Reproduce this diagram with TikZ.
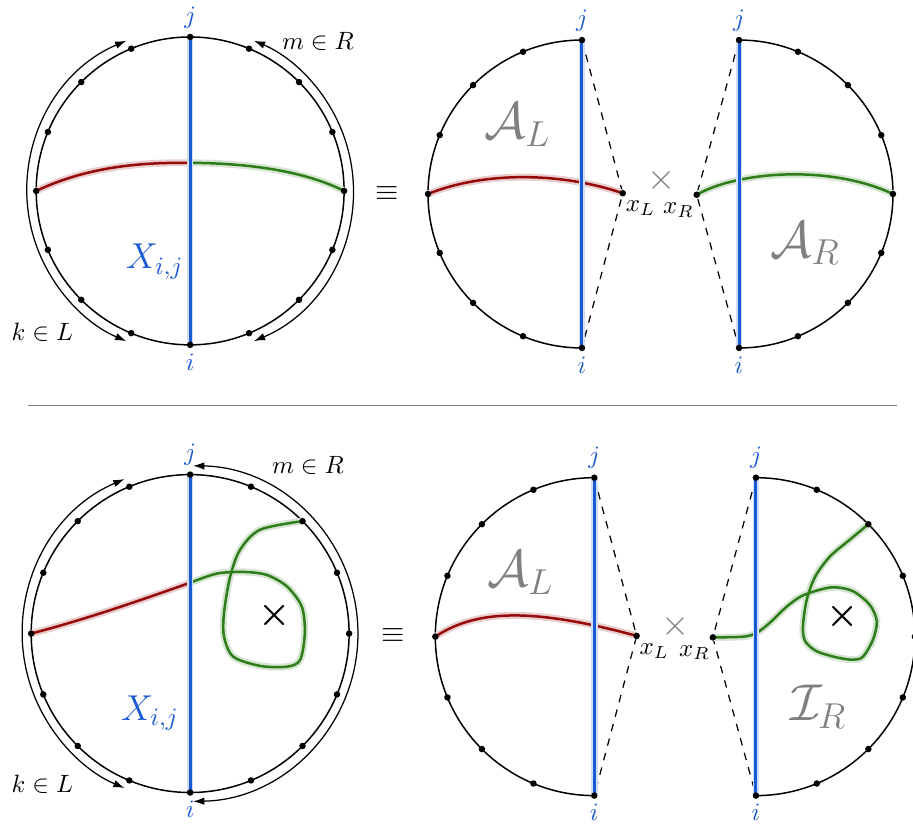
\documentclass[tikz,border=0pt]{standalone}
\usepackage{amsmath, amssymb}
\usepackage{tikz}
\usetikzlibrary{calc, arrows.meta}
\usepackage{xcolor}
\definecolor{xblue}{RGB}{25,90,210}
\definecolor{lred}{RGB}{150,10,10}
\definecolor{lgreen}{RGB}{45,125,25}

\begin{document}
\begin{tikzpicture}[x=1.0825cm, y=1.0825cm,
        diskline/.style={line width=0.6pt},
        idxline/.style={draw=xblue, line width=1.2pt, preaction={draw=xblue!20, line width=2.6pt}},
        redpath/.style={draw=lred, line width=1pt, preaction={draw=lred!20, line width=2.8pt}},
        greenpath/.style={draw=lgreen, line width=1pt, preaction={draw=lgreen!20, line width=2.8pt}},
        rangearc/.style={line width=0.5pt, {Latex[length=4.5pt,width=3pt]}-{Latex[length=4.5pt,width=3pt]}},
        gluedash/.style={dashed, line width=0.5pt},
        idx/.style={text=xblue},
        region/.style={text=gray, font=\huge},
        cutmark/.style={text=gray, font=\Large, inner sep=0pt},
        gluelab/.style={inner sep=1pt, yshift=-2pt}]
                \useasboundingbox (-2.47,-8.30) rectangle (9.39,2.48);
                % top row: full disk
                \coordinate (O1) at (0,0);
                \coordinate (j1) at ($(O1)+(90:2)$);
                \coordinate (i1) at ($(O1)+(270:2)$);
                \coordinate (l1) at ($(O1)+(180:2)$);
                \coordinate (r1) at ($(O1)+(0:2)$);
                \coordinate (m1) at (0,0.365);
                \draw[diskline] (O1) circle (2);
                \draw[rangearc] ($(O1)+(113:2.12)$) arc[start angle=113, end angle=247, radius=2.12];
                \draw[rangearc] ($(O1)+(-67:2.12)$) arc[start angle=-67, end angle=67, radius=2.12];
                \draw[redpath] (l1) .. controls (-1.3,0.33) and (-0.6,0.37) .. (m1);
                \draw[greenpath] (m1) .. controls (0.8,0.36) and (1.5,0.25) .. (r1);
                \draw[idxline] (j1) -- (i1);
                \foreach \a in {0,22.5,...,337.5} \fill (O1) ++(\a:2) circle (1.3pt);
                \node[idx, above] (j1lab) at (j1) {$j$};
                \node[idx, below] (i1lab) at (i1) {$i$};
                \node[idx, font=\Large] (X1lab) at (-0.46,-0.92) {$X_{i,j}$};
                \node (m1lab) at (1.66,1.94) {$m\in R$};
                \node (k1lab) at (-1.92,-1.84) {$k\in L$};
                \node[font=\large] (eq1) at (2.56,-0.03) {$\equiv$};
                % top row: left half
                \coordinate (OL1) at (5.09,-0.04);
                \coordinate (jL1) at ($(OL1)+(90:2)$);
                \coordinate (iL1) at ($(OL1)+(270:2)$);
                \coordinate (lL1) at ($(OL1)+(180:2)$);
                \coordinate (xL1) at (5.62,-0.03);
                \draw[diskline] (jL1) arc[start angle=90, end angle=270, radius=2];
                \draw[gluedash] (jL1) -- (xL1) -- (iL1);
                \draw[redpath] (lL1) .. controls (3.8,0.25) and (4.8,0.25) .. (xL1);
                \draw[idxline] (jL1) -- (iL1);
                \foreach \a in {90,112.5,...,270} \fill (OL1) ++(\a:2) circle (1.3pt);
                \fill (xL1) circle (1.3pt);
                \node[idx, above] (jL1lab) at (jL1) {$j$};
                \node[idx, below] (iL1lab) at (iL1) {$i$};
                \node[below right, gluelab] (xL1lab) at (xL1) {$x_L$};
                \node[region] (AL1) at (4.25,0.86) {$\mathcal{A}_L$};
                % top row: right half
                \coordinate (OR1) at (7.13,-0.04);
                \coordinate (jR1) at ($(OR1)+(90:2)$);
                \coordinate (iR1) at ($(OR1)+(270:2)$);
                \coordinate (rR1) at ($(OR1)+(0:2)$);
                \coordinate (xR1) at (6.58,-0.05);
                \draw[diskline] (iR1) arc[start angle=-90, end angle=90, radius=2];
                \draw[gluedash] (jR1) -- (xR1) -- (iR1);
                \draw[greenpath] (xR1) .. controls (7.1,0.25) and (8.3,0.35) .. (rR1);
                \draw[idxline] (jR1) -- (iR1);
                \foreach \a in {-90,-67.5,...,90} \fill (OR1) ++(\a:2) circle (1.3pt);
                \fill (xR1) circle (1.3pt);
                \node[idx, above] (jR1lab) at (jR1) {$j$};
                \node[idx, below] (iR1lab) at (iR1) {$i$};
                \node[below left, gluelab] (xR1lab) at (xR1) {$x_R$};
                \node[region] (AR1) at (7.99,-0.68) {$\mathcal{A}_R$};
                \node[cutmark] (cut1) at (6.12,0.13) {$\times$};
                % separator
                \coordinate (s1) at (-2.1,-2.79);
                \coordinate (s2) at (9.18,-2.79);
                \draw[gray, line width=0.5pt] (s1) -- (s2);
                % bottom row: full disk
                \coordinate (O2) at (0,-5.75);
                \coordinate (j2) at ($(O2)+(90:2.065)$);
                \coordinate (i2) at ($(O2)+(270:2.065)$);
                \coordinate (l2) at ($(O2)+(180:2.065)$);
                \coordinate (g2) at ($(O2)+(45:2.065)$);
                \coordinate (m2) at (0,-5.09);
                \draw[diskline] (O2) circle (2.065);
                \draw[rangearc] ($(O2)+(113:2.18)$) arc[start angle=113, end angle=247, radius=2.18];
                \draw[rangearc] ($(O2)+(-89:2.18)$) arc[start angle=-89, end angle=89, radius=2.18];
                \draw[redpath] (l2) .. controls (-1.3,-5.55) and (-0.6,-5.3) .. (m2);
                \draw[greenpath] plot[smooth] coordinates {(m2) (0.35,-4.97) (0.71,-4.95) (1.0,-4.99)
                    (1.26,-5.14) (1.45,-5.40) (1.49,-5.74) (1.43,-6.09) (1.26,-6.18) (0.91,-6.17)
                    (0.56,-6.05) (0.44,-5.79) (0.44,-5.48) (0.52,-5.01) (0.65,-4.66) (0.91,-4.40) (g2)};
                \draw[idxline] (j2) -- (i2);
                \foreach \a in {0,22.5,...,337.5} \fill (O2) ++(\a:2.065) circle (1.3pt);
                \node[idx, above] (j2lab) at (j2) {$j$};
                \node[idx, below] (i2lab) at (i2) {$i$};
                \node[idx, font=\Large] (X2lab) at (-0.52,-6.78) {$X_{i,j}$};
                \node (m2lab) at (1.53,-3.57) {$m\in R$};
                \node (k2lab) at (-1.92,-7.71) {$k\in L$};
                \node[font=\Large] (pt2) at (1.10,-5.51) {$\boldsymbol{\times}$};
                \node[font=\large] (eq2) at (2.64,-5.78) {$\equiv$};
                % bottom row: left half
                \coordinate (OL2) at (5.25,-5.79);
                \coordinate (jL2) at ($(OL2)+(90:2.065)$);
                \coordinate (iL2) at ($(OL2)+(270:2.065)$);
                \coordinate (lL2) at ($(OL2)+(180:2.065)$);
                \coordinate (xL2) at (5.80,-5.78);
                \draw[diskline] (jL2) arc[start angle=90, end angle=270, radius=2.065];
                \draw[gluedash] (jL2) -- (xL2) -- (iL2);
                \draw[redpath] (lL2) .. controls (3.7,-5.45) and (4.4,-5.4) .. (xL2);
                \draw[idxline] (jL2) -- (iL2);
                \foreach \a in {90,112.5,...,270} \fill (OL2) ++(\a:2.065) circle (1.3pt);
                \fill (xL2) circle (1.3pt);
                \node[idx, above] (jL2lab) at (jL2) {$j$};
                \node[idx, below] (iL2lab) at (iL2) {$i$};
                \node[below right, gluelab] (xL2lab) at (xL2) {$x_L$};
                \node[region] (AL2) at (4.29,-4.96) {$\mathcal{A}_L$};
                % bottom row: right half
                \coordinate (OR2) at (7.35,-5.79);
                \coordinate (jR2) at ($(OR2)+(90:2.065)$);
                \coordinate (iR2) at ($(OR2)+(270:2.065)$);
                \coordinate (gR2) at ($(OR2)+(45:2.065)$);
                \coordinate (xR2) at (6.79,-5.80);
                \draw[diskline] (iR2) arc[start angle=-90, end angle=90, radius=2.065];
                \draw[gluedash] (jR2) -- (xR2) -- (iR2);
                \draw[greenpath] plot[smooth] coordinates {(xR2) (7.19,-5.79) (7.36,-5.74) (7.53,-5.61)
                    (7.75,-5.40) (7.97,-5.25) (8.33,-5.15) (8.61,-5.20) (8.83,-5.38) (8.92,-5.59)
                    (8.87,-5.83) (8.74,-6.05) (8.61,-6.09) (8.40,-6.06) (8.14,-5.98) (7.99,-5.85)
                    (7.96,-5.66) (8.01,-5.31) (8.12,-5.01) (8.31,-4.75) (8.57,-4.53) (gR2)};
                \draw[idxline] (jR2) -- (iR2);
                \foreach \a in {-90,-67.5,...,90} \fill (OR2) ++(\a:2.065) circle (1.3pt);
                \fill (xR2) circle (1.3pt);
                \node[idx, above] (jR2lab) at (jR2) {$j$};
                \node[idx, below] (iR2lab) at (iR2) {$i$};
                \node[below left, gluelab] (xR2lab) at (xR2) {$x_R$};
                \node[region] (IR2) at (8.16,-6.70) {$\mathcal{I}_R$};
                \node[font=\Large] (pt2R) at (8.47,-5.53) {$\boldsymbol{\times}$};
                \node[cutmark] (cut2) at (6.30,-5.66) {$\times$};
            \end{tikzpicture}
\end{document}
